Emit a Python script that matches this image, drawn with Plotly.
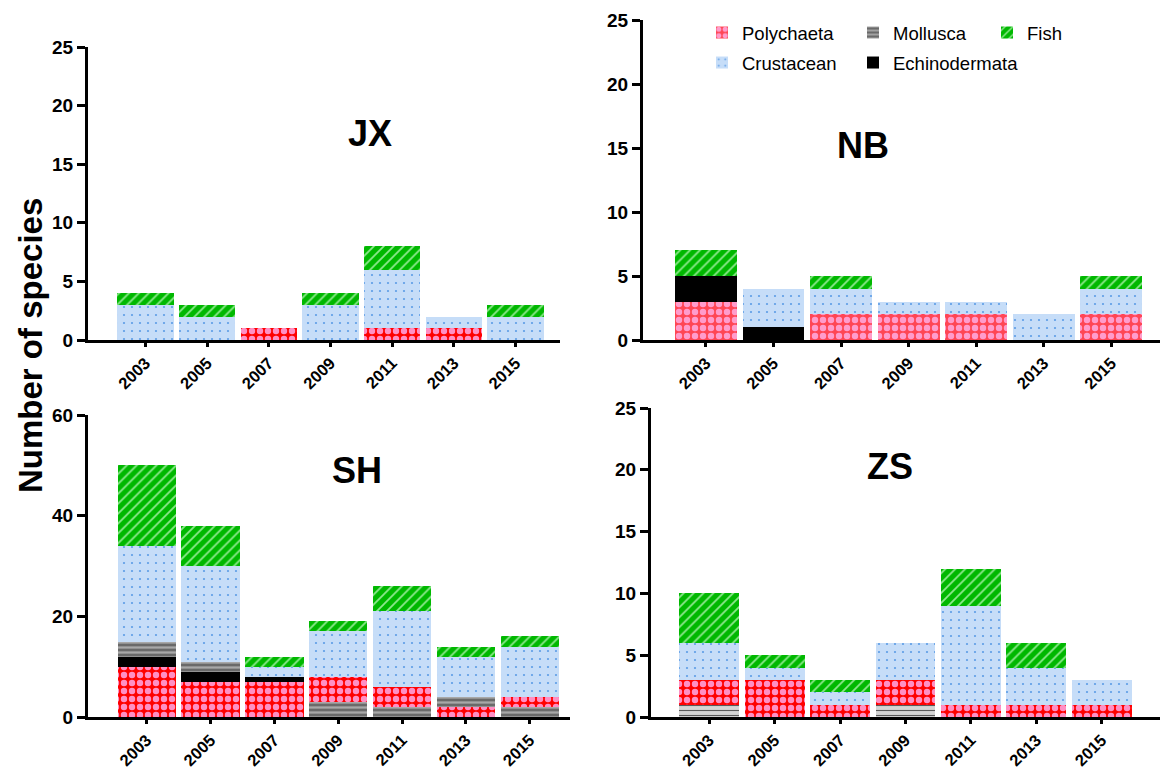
import plotly.graph_objects as go

W, H = 1164, 770

years = ["2003", "2005", "2007", "2009", "2011", "2013", "2015"]
small_ticks = [0, 5, 10, 15, 20, 25]
sh_ticks = [0, 20, 40, 60]

# ---- data (number of species) ----
JX_polychaeta = [0, 0, 1, 0, 1, 1, 0]
JX_echinodermata = [0, 0, 0, 0, 0, 0, 0]
JX_mollusca = [0, 0, 0, 0, 0, 0, 0]
JX_mollusca_below = [False] * 7
JX_crustacean = [3, 2, 0, 3, 5, 1, 2]
JX_fish = [1, 1, 0, 1, 2, 0, 1]

NB_polychaeta = [3, 0, 2, 2, 2, 0, 2]
NB_echinodermata = [2, 1, 0, 0, 0, 0, 0]
NB_mollusca = [0, 0, 0, 0, 0, 0, 0]
NB_mollusca_below = [False] * 7
NB_crustacean = [0, 3, 2, 1, 1, 2, 2]
NB_fish = [2, 0, 1, 0, 0, 0, 1]

SH_polychaeta = [10, 7, 7, 5, 4, 2, 2]
SH_echinodermata = [2, 2, 1, 0, 0, 0, 0]
SH_mollusca = [3, 2, 0, 3, 2, 2, 2]
SH_mollusca_below = [False, False, False, True, True, False, True]
SH_crustacean = [19, 19, 2, 9, 15, 8, 10]
SH_fish = [16, 8, 2, 2, 5, 2, 2]

ZS_polychaeta = [2, 3, 1, 2, 1, 1, 1]
ZS_echinodermata = [0, 0, 0, 0, 0, 0, 0]
ZS_mollusca = [1, 0, 0, 1, 0, 0, 0]
ZS_mollusca_below = [True] * 7
ZS_crustacean = [3, 1, 1, 3, 8, 3, 2]
ZS_fish = [4, 1, 1, 0, 3, 2, 0]

FONT = "Arial, Liberation Sans, Helvetica, sans-serif"


def px_x(p):
    return p / W


def px_y(p):
    return 1 - p / H


panels = [
    dict(name="JX", ax="", data=(JX_polychaeta, JX_echinodermata, JX_mollusca, JX_mollusca_below, JX_crustacean, JX_fish),
         box=(88, 560, 47, 340), ymax=25, ticks=small_ticks, xr=[-0.93, 6.72], title=(370, 133),
         poly=("#ff0000", "#ff8fc4"), moll=("#707070", "#b4b4b4", 0.45)),
    dict(name="NB", ax="2", data=(NB_polychaeta, NB_echinodermata, NB_mollusca, NB_mollusca_below, NB_crustacean, NB_fish),
         box=(643, 1160, 20, 340), ymax=25, ticks=small_ticks, xr=[-0.93, 6.72], title=(863, 145),
         poly=("#ff4655", "#ff9ccc"), moll=("#707070", "#b4b4b4", 0.45)),
    dict(name="SH", ax="3", data=(SH_polychaeta, SH_echinodermata, SH_mollusca, SH_mollusca_below, SH_crustacean, SH_fish),
         box=(88, 570, 415, 717), ymax=60, ticks=sh_ticks, xr=[-0.92, 6.63], title=(357, 470),
         poly=("#ff0000", "#ff8fc4"), moll=("#6a6a6a", "#a8a8a8", 0.45)),
    dict(name="ZS", ax="4", data=(ZS_polychaeta, ZS_echinodermata, ZS_mollusca, ZS_mollusca_below, ZS_crustacean, ZS_fish),
         box=(651, 1160, 408, 717), ymax=25, ticks=small_ticks, xr=[-0.89, 6.89], title=(890, 466),
         poly=("#ff0000", "#ff8fc4"), moll=("#d4d4d4", "#5a5a5a", 0.22)),
]

legend_src = {"Polychaeta": "NB", "Mollusca": "SH", "Fish": "JX", "Crustacean": "JX", "Echinodermata": "NB"}
# each legend entry in its own legend box so rows/columns can be placed like the reference
legend_id = {"Polychaeta": "legend", "Mollusca": "legend2", "Fish": "legend3",
             "Crustacean": "legend4", "Echinodermata": "legend5"}
legend_pos = {"legend": (702, 14), "legend2": (853, 14), "legend3": (987, 14),
              "legend4": (702, 44), "legend5": (853, 44)}

fig = go.Figure()

for p in panels:
    poly, echi, moll, below, crus, fish = p["data"]
    moll_low = [m if b else 0 for m, b in zip(moll, below)]
    moll_high = [0 if b else m for m, b in zip(moll, below)]
    xa = "x" + p["ax"]
    ya = "y" + p["ax"]
    mpat = dict(bgcolor=p["moll"][0], fgcolor=p["moll"][1], shape="-", size=5, solidity=p["moll"][2])
    specs = [
        ("Mollusca", moll_low, mpat, False),
        ("Polychaeta", poly, dict(bgcolor=p["poly"][0], fgcolor=p["poly"][1], shape=".", size=8, solidity=0.5), True),
        ("Echinodermata", echi, None, True),
        ("Mollusca", moll_high, mpat, True),
        ("Crustacean", crus, dict(bgcolor="#c6ddf8", fgcolor="#5d9de6", shape=".", size=8, solidity=0.06), True),
        ("Fish", fish, dict(bgcolor="#00b800", fgcolor="#90e890", shape="/", size=7, solidity=0.25), True),
    ]
    for name, vals, pat, can_legend in specs:
        marker = dict(line=dict(width=0))
        if pat is None:
            marker["color"] = "#000000"
        else:
            marker["color"] = pat["bgcolor"]
            marker["pattern"] = dict(shape=pat["shape"], bgcolor=pat["bgcolor"], fgcolor=pat["fgcolor"],
                                     size=pat["size"], solidity=pat["solidity"], fillmode="replace")
        show = can_legend and legend_src[name] == p["name"]
        fig.add_trace(go.Bar(
            x=years, y=vals, name=name, marker=marker, xaxis=xa, yaxis=ya,
            legendgroup=name, showlegend=show, legend=legend_id[name],
            hoverinfo="x+y+name",
        ))

leg_common = dict(orientation="v", xanchor="left", yanchor="top", bgcolor="rgba(0,0,0,0)",
                  font=dict(family=FONT, size=18.5, color="black"), traceorder="normal")

layout = dict(
    width=W, height=H, margin=dict(l=0, r=0, t=0, b=0, autoexpand=False),
    paper_bgcolor="white", plot_bgcolor="white",
    barmode="stack", bargap=0.085,
    font=dict(family=FONT, color="black"),
    showlegend=True,
    annotations=[],
)
for lid, (lx, ly) in legend_pos.items():
    layout[lid] = dict(x=px_x(lx), y=px_y(ly), **leg_common)

for p in panels:
    x0, x1, y0, y1 = p["box"]
    xk = "xaxis" + p["ax"]
    yk = "yaxis" + p["ax"]
    layout[xk] = dict(domain=[px_x(x0), px_x(x1)], anchor="y" + p["ax"], type="category",
                      range=p["xr"], showline=True, linewidth=3, linecolor="black",
                      ticks="outside", ticklen=4, tickwidth=3, tickcolor="black",
                      tickangle=-45, tickfont=dict(family=FONT, size=16.5, color="black", weight="bold"),
                      showgrid=False, zeroline=False, fixedrange=True)
    layout[yk] = dict(domain=[px_y(y1), px_y(y0)], anchor="x" + p["ax"],
                      range=[0, p["ymax"]], tickvals=p["ticks"], showline=True, linewidth=3, linecolor="black",
                      ticks="outside", ticklen=8, tickwidth=3, tickcolor="black",
                      tickfont=dict(family=FONT, size=19, color="black", weight="bold"),
                      showgrid=False, zeroline=False, fixedrange=True)
    tx, ty = p["title"]
    layout["annotations"].append(dict(text="<b>%s</b>" % p["name"], x=px_x(tx), y=px_y(ty), xref="paper", yref="paper",
                                      xanchor="center", yanchor="middle", showarrow=False,
                                      font=dict(family=FONT, size=36, color="black")))

layout["annotations"].append(dict(text="<b>Number of species</b>", x=px_x(30), y=px_y(346), xref="paper", yref="paper",
                                  xanchor="center", yanchor="middle", showarrow=False, textangle=-90,
                                  font=dict(family=FONT, size=33, color="black")))

fig.update_layout(**layout)
fig.write_html("out.html")
